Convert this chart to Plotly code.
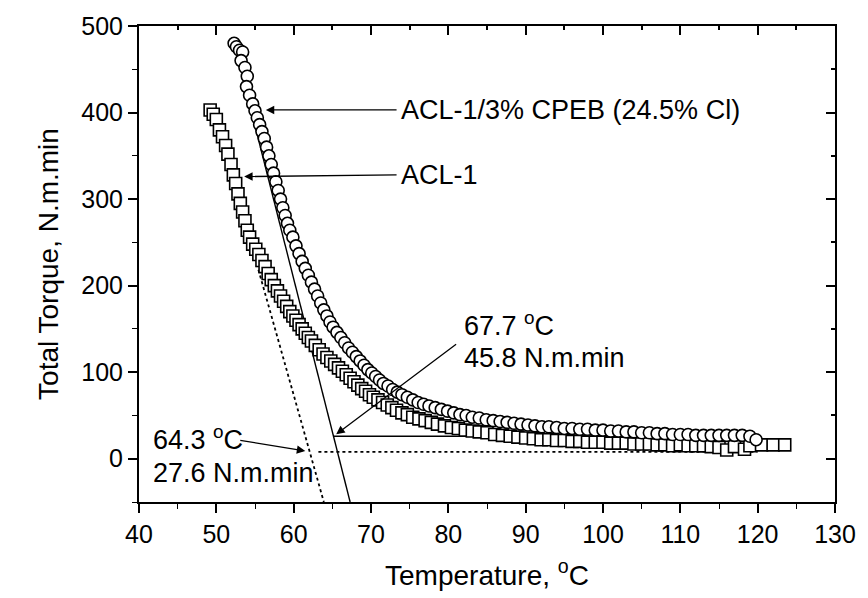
import plotly.graph_objects as go

# ACL-1 (squares)
t_acl = [49.2, 49.6, 50.0, 50.4, 50.8, 51.2, 51.5, 51.9, 52.2, 52.5, 52.8, 53.1, 53.4, 53.7,
         54.0, 54.3, 54.7, 55.1, 55.5, 55.9, 56.3, 56.7, 57.1, 57.5, 57.9, 58.3, 58.7, 59.1,
         59.5, 59.9, 60.3, 60.7, 61.1, 61.5, 61.9, 62.3, 62.8, 63.3, 63.8, 64.3, 64.8, 65.3,
         65.8, 66.3, 66.8, 67.3, 67.8, 68.3, 68.8, 69.3, 69.8, 70.3, 70.9, 71.5, 72.1, 72.7,
         73.3, 74.0, 74.7, 75.4, 76.2, 77.0, 77.8, 78.6, 79.5, 80.4, 81.3, 82.2, 83.1, 84.0,
         85.0, 86.0, 87.0, 88.0, 89.0, 90.0, 91.0, 92.0, 93.0, 94.0, 95.0, 96.0, 97.0, 98.0,
         99.0, 100.0, 101.0, 102.0, 103.0, 104.0, 105.0, 106.0, 107.0, 108.0, 109.0, 110.0,
         111.0, 112.0, 113.0, 114.0, 115.0, 116.0, 117.0, 118.3, 119.0, 120.5, 122.0, 123.5]
v_acl = [403, 398, 392, 380, 372, 362, 352, 340, 328, 318, 306, 295, 285, 275,
         264, 256, 248, 242, 236, 229, 222, 214, 207, 200, 194, 188, 182, 176,
         170, 165, 160, 155, 150, 145, 140, 136, 131, 126, 121, 117, 113, 109,
         105, 101, 97, 93, 89, 85, 81, 78, 74, 71, 68, 65, 62, 59,
         56, 53, 51, 48, 46, 44, 42, 40, 38, 36, 35, 33, 32, 31,
         30, 28, 27, 26, 25, 24, 23, 22, 22, 21, 21, 20, 20, 19,
         19, 19, 18, 18, 18, 17, 17, 17, 16, 16, 15, 16,
         15, 15, 15, 14, 13, 10, 14, 11, 15, 16, 16, 16]

# ACL-1/3% CPEB (24.5% Cl) (circles)
t_cpeb = [52.3, 52.6, 53.0, 53.4, 53.2, 53.7, 54.0, 53.9, 54.3, 54.7, 55.0, 55.3, 55.6, 55.9,
          56.2, 56.5, 56.8, 57.1, 57.4, 57.7, 58.0, 58.3, 58.6, 58.9, 59.2, 59.5, 59.9, 60.3,
          60.7, 61.1, 61.5, 61.9, 62.3, 62.7, 63.1, 63.5, 63.9, 64.3, 64.7, 65.1, 65.6, 66.1,
          66.6, 67.1, 67.6, 68.1, 68.6, 69.1, 69.6, 70.1, 70.6, 71.1, 71.6, 72.2, 72.8, 73.4,
          74.0, 74.7, 75.4, 76.1, 76.8, 77.5, 78.3, 79.1, 79.9, 80.7, 81.5, 82.3, 83.1, 84.0,
          84.9, 85.8, 86.7, 87.6, 88.5, 89.4, 90.3, 91.2, 92.1, 93.0, 94.0, 95.0, 96.0, 97.0,
          98.0, 99.0, 100.0, 101.0, 102.0, 103.0, 104.0, 105.0, 106.0, 107.0, 108.0, 109.0,
          110.0, 111.0, 112.0, 113.0, 114.0, 115.0, 116.0, 117.0, 118.0, 119.0, 119.8]
v_cpeb = [480, 476, 472, 470, 460, 452, 442, 430, 420, 410, 402, 394, 386, 378,
          370, 360, 350, 340, 330, 320, 310, 300, 290, 281, 272, 264, 256, 246,
          237, 228, 220, 212, 204, 196, 188, 180, 172, 165, 158, 152, 146, 140,
          134, 128, 123, 118, 113, 108, 103, 99, 95, 91, 87, 84, 80, 77,
          74, 71, 68, 65, 63, 61, 59, 57, 55, 53, 51, 50, 48, 47,
          45, 44, 43, 42, 41, 40, 39, 38, 37, 37, 36, 35, 35, 34,
          34, 33, 33, 32, 32, 31, 31, 30, 30, 29, 29, 28,
          28, 28, 27, 27, 27, 27, 27, 27, 27, 26, 22]

# construction lines
tan_cpeb_t = [54.0, 67.3]
tan_cpeb_v = [420, -50]
tan_acl_t = [54.6, 63.9]
tan_acl_v = [245, -50]
base_cpeb_t = [65.2, 120.0]
base_cpeb_v = [26, 26]
base_acl_t = [63.2, 120.0]
base_acl_v = [8, 8]

x_range = [40, 130]
y_range = [-50, 500]

FONT = "Liberation Sans, Arial, Helvetica, sans-serif"

fig = go.Figure()
fig.add_trace(go.Scatter(x=tan_cpeb_t, y=tan_cpeb_v, mode="lines",
                         line=dict(color="black", width=1.4), hoverinfo="skip"))
fig.add_trace(go.Scatter(x=tan_acl_t, y=tan_acl_v, mode="lines",
                         line=dict(color="black", width=1.8, dash="dot"), hoverinfo="skip"))
fig.add_trace(go.Scatter(x=base_cpeb_t, y=base_cpeb_v, mode="lines",
                         line=dict(color="black", width=1.4), hoverinfo="skip"))
fig.add_trace(go.Scatter(x=base_acl_t, y=base_acl_v, mode="lines",
                         line=dict(color="black", width=1.8, dash="dot"), hoverinfo="skip"))
fig.add_trace(go.Scatter(x=t_acl, y=v_acl, mode="markers", name="ACL-1",
                         marker=dict(symbol="square", size=12, color="white",
                                     line=dict(color="black", width=1.6))))
fig.add_trace(go.Scatter(x=t_cpeb, y=v_cpeb, mode="markers", name="ACL-1/3% CPEB (24.5% Cl)",
                         marker=dict(symbol="circle", size=12, color="white",
                                     line=dict(color="black", width=1.6))))
# helper trace for mirrored inner ticks
fig.add_trace(go.Scatter(x=[None], y=[None], xaxis="x2", yaxis="y2", showlegend=False,
                         hoverinfo="skip"))

axis_common = dict(showgrid=False, zeroline=False, showline=True, linecolor="black",
                   linewidth=2, tickcolor="black", ticklen=9, tickwidth=1.5)

fig.update_layout(
    width=868, height=598,
    margin=dict(l=139, r=27, t=18, b=94),
    paper_bgcolor="white", plot_bgcolor="white",
    showlegend=False,
    font=dict(family=FONT, color="black", size=25),
    xaxis=dict(range=x_range, dtick=10, ticks="outside",
               minor=dict(dtick=5, ticks="outside", ticklen=5, tickcolor="black", tickwidth=1.2),
               title=dict(text="Temperature, <sup>o</sup>C", font=dict(size=28), standoff=18),
               tickfont=dict(size=25), **axis_common),
    yaxis=dict(range=y_range, dtick=100, ticks="outside",
               minor=dict(dtick=50, ticks="outside", ticklen=5, tickcolor="black", tickwidth=1.2),
               title=dict(text="Total Torque, N.m.min", font=dict(size=28), standoff=14),
               tickfont=dict(size=25), **axis_common),
    xaxis2=dict(range=x_range, overlaying="x", side="top", dtick=10, ticks="inside",
                showticklabels=False, minor=dict(dtick=5, ticks="inside", ticklen=4,
                                                 tickcolor="black"),
                **axis_common),
    yaxis2=dict(range=y_range, overlaying="y", side="right", dtick=100, ticks="inside",
                showticklabels=False, minor=dict(dtick=50, ticks="inside", ticklen=4,
                                                 tickcolor="black"),
                **axis_common),
)

ann_font = dict(family=FONT, size=27, color="black")
arrows = [
    # tail (ax, ay) -> tip (x, y)
    (73.5, 403, 56.4, 403),
    (73.5, 328, 53.6, 326),
    (81.2, 133.5, 65.5, 28.3),
    (52.9, 21.5, 61.5, 9.0),
]
for ax, ay, x, y in arrows:
    fig.add_annotation(x=x, y=y, ax=ax, ay=ay, xref="x", yref="y", axref="x", ayref="y",
                       text="", showarrow=True, arrowhead=2, arrowsize=1.3, arrowwidth=1.3,
                       arrowcolor="black")

texts = [
    ("ACL-1/3% CPEB (24.5% Cl)", 73.6, 403),
    ("ACL-1", 73.6, 328),
    ("67.7 <sup>o</sup>C", 81.8, 156),
    ("45.8 N.m.min", 81.8, 116),
    ("64.3 <sup>o</sup>C", 41.6, 24),
    ("27.6 N.m.min", 41.6, -16),
]
for txt, x, y in texts:
    fig.add_annotation(x=x, y=y, xref="x", yref="y", text=txt, showarrow=False,
                       xanchor="left", yanchor="middle", font=ann_font)

fig.write_html("out.html")
